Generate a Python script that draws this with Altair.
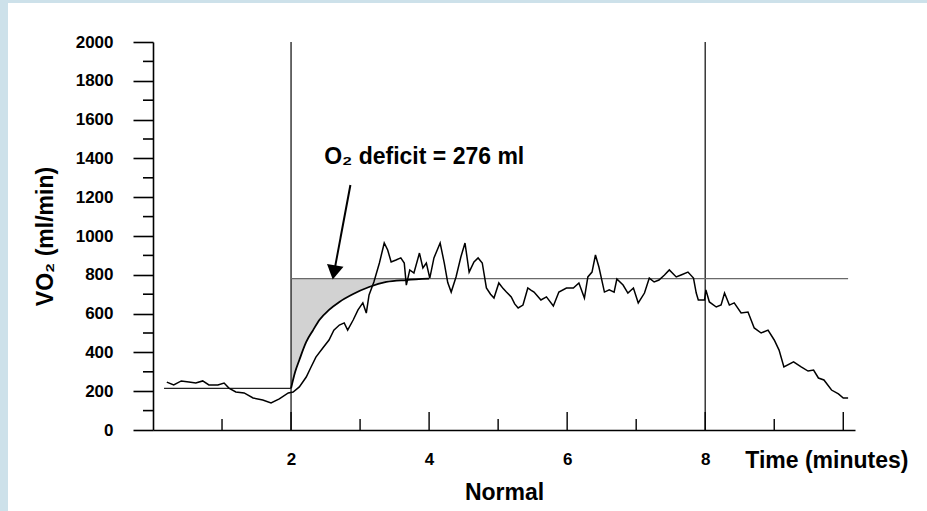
import altair as alt
import pandas as pd

# ---------------- data ----------------
time_min = [0.20, 0.30, 0.41, 0.52, 0.62, 0.72, 0.81, 0.94, 1.03, 1.10, 1.20, 1.32, 1.45, 1.59,
            1.71, 1.83, 1.96, 2.03, 2.12, 2.22, 2.29, 2.36, 2.46, 2.55, 2.62, 2.70, 2.77, 2.82,
            2.90, 2.97, 3.04, 3.09, 3.13, 3.20, 3.28, 3.35, 3.40, 3.45, 3.52, 3.59, 3.64, 3.67,
            3.72, 3.78, 3.86, 3.91, 3.96, 4.01, 4.07, 4.16, 4.22, 4.27, 4.32, 4.39, 4.46, 4.52,
            4.58, 4.65, 4.71, 4.77, 4.83, 4.89, 4.94, 5.01, 5.07, 5.12, 5.19, 5.24, 5.29, 5.36,
            5.43, 5.48, 5.52, 5.62, 5.70, 5.80, 5.88, 5.99, 6.09, 6.17, 6.25, 6.30, 6.36, 6.41,
            6.46, 6.54, 6.61, 6.68, 6.72, 6.81, 6.88, 6.96, 7.03, 7.12, 7.19, 7.26, 7.33, 7.41,
            7.48, 7.58, 7.65, 7.75, 7.83, 7.87, 7.90, 7.99, 8.01, 8.06, 8.16, 8.23, 8.28, 8.35,
            8.42, 8.52, 8.62, 8.71, 8.81, 8.91, 9.00, 9.07, 9.14, 9.28, 9.39, 9.49, 9.57, 9.64,
            9.72, 9.83, 9.93, 10.00, 10.07]
vo2 = [247, 232, 253, 247, 242, 253, 232, 232, 242, 216, 196, 191, 165, 155,
       139, 160, 191, 196, 222, 273, 325, 376, 423, 464, 515, 541, 552, 515,
       567, 619, 655, 603, 696, 763, 861, 964, 928, 866, 876, 887, 861, 747,
       825, 809, 912, 835, 861, 783, 887, 964, 860, 760, 711, 789, 892, 964,
       814, 866, 887, 861, 732, 700, 680, 758, 730, 711, 686, 650, 629, 644,
       732, 720, 711, 670, 686, 639, 711, 732, 732, 758, 680, 789, 814, 902,
       840, 711, 722, 711, 778, 747, 706, 732, 655, 706, 783, 763, 773, 799,
       825, 789, 799, 814, 783, 706, 670, 670, 722, 660, 634, 644, 706, 644,
       655, 603, 608, 526, 500, 515, 464, 412, 325, 351, 325, 304, 309, 268,
       258, 206, 186, 165, 165]

fit_time = [2.00, 2.06, 2.12, 2.22, 2.32, 2.41, 2.55, 2.70, 2.90, 3.13, 3.38, 3.67, 4.00]
fit_vo2 = [215, 300, 361, 454, 515, 567, 619, 660, 701, 737, 763, 773, 780]

baseline_start, baseline_end, baseline_vo2 = 0.16, 2.0, 215
steady_start, steady_end, steady_vo2 = 2.0, 10.07, 780
phase_lines = [2, 8]
x_tick_times = [1, 2, 3, 4, 5, 6, 7, 8, 9, 10]
x_label_values = [2, 4, 6, 8]
y_major_values = list(range(0, 2001, 200))
y_minor_values = list(range(100, 2000, 200))

annotation = "O₂ deficit = 276 ml"
ann_x, ann_y = 2.48, 1407
arrow_from = (2.86, 1263)
arrow_to = (2.635, 835)
arrow_head = (2.622, 812)

FONT = "Liberation Sans"
X = alt.Scale(domain=[0, 10.17], nice=False, zero=False)
Y = alt.Scale(domain=[0, 2000], nice=False)
XT = "Normal"
YT = "VO₂ (ml/min)"

AXX = alt.Axis(values=x_label_values, ticks=False, grid=False, format="d",
               domainColor="black", domainWidth=1.6, labelFont=FONT, labelFontSize=17,
               labelFontWeight="bold", labelColor="black", labelPadding=21,
               titleFont=FONT, titleFontSize=23, titleFontWeight="bold", titleColor="black",
               titlePadding=14, zindex=1)
AXY = alt.Axis(values=y_major_values, grid=False, format="d",
               tickSize=20, tickColor="black", tickWidth=1.6, domainColor="black", domainWidth=1.6,
               labelFont=FONT, labelFontSize=17, labelFontWeight="bold", labelColor="black",
               labelPadding=20, titleFont=FONT, titleFontSize=23, titleFontWeight="bold",
               titleColor="black", titlePadding=18, zindex=1)


def xq(f):
    return alt.X(f, type="quantitative", scale=X, axis=AXX, title=XT)


def yq(f):
    return alt.Y(f, type="quantitative", scale=Y, axis=AXY, title=YT)


meas = pd.DataFrame({"t": time_min, "v": vo2})
fit = pd.DataFrame({"t": fit_time, "v": fit_vo2, "top": [steady_vo2] * len(fit_time)})
hlines = pd.DataFrame({"t": [baseline_start, steady_start], "t2": [baseline_end, steady_end],
                       "v": [baseline_vo2, steady_vo2], "kind": ["base", "steady"]})
vlines = pd.DataFrame({"t": phase_lines, "v": [0] * len(phase_lines), "hi": [2000] * len(phase_lines)})
ticks = pd.DataFrame({"t": x_tick_times, "v": [0] * len(x_tick_times)})
minor = pd.DataFrame({"v": y_minor_values, "t": [0] * len(y_minor_values)})
one = pd.DataFrame({"a": [0]})

line = alt.Chart(meas).mark_line(color="black", strokeWidth=1.5).encode(x=xq("t"), y=yq("v"))

shade = alt.Chart(fit).mark_area(color="#d2d2d2", opacity=1).encode(x=xq("t"), y=yq("v"), y2="top:Q")

vr = alt.Chart(vlines).mark_rule(color="#2a2a2a", strokeWidth=1.4).encode(x=xq("t"), y=yq("v"), y2="hi:Q")

hr = alt.Chart(hlines).mark_rule(strokeWidth=1.2).encode(
    x=xq("t"), x2="t2:Q", y=yq("v"),
    color=alt.Color("kind:N", scale=alt.Scale(domain=["base", "steady"], range=["#222222", "#6a6a6a"]), legend=None))

# inward ticks on the time axis (majors longer than minors)
xt = alt.Chart(ticks).transform_calculate(len="datum.t % 2 === 0 ? 93 : 57").mark_rule(
    color="black", strokeWidth=1.4).encode(x=xq("t"), y=yq("v"), y2="len:Q")

# short minor ticks on the VO2 axis
yt = alt.Chart(minor).transform_calculate(left="-0.145").mark_rule(
    color="black", strokeWidth=1.6).encode(x=xq("t"), x2="left:Q", y=yq("v"))

fitline = alt.Chart(fit).mark_line(color="black", strokeWidth=1.8, interpolate="monotone").encode(
    x=xq("t"), y=yq("v"))

arrow_df = pd.DataFrame({"t": [arrow_from[0]], "v": [arrow_from[1]], "t2": [arrow_to[0]], "v2": [arrow_to[1]]})
arrow = alt.Chart(arrow_df).mark_rule(color="black", strokeWidth=2).encode(
    x=xq("t"), y=yq("v"), x2="t2:Q", y2="v2:Q")
head = alt.Chart(pd.DataFrame({"t": [arrow_head[0]], "v": [arrow_head[1]]})).mark_point(
    shape="triangle-down", filled=True, color="black", size=280, angle=10, opacity=1).encode(
    x=xq("t"), y=yq("v"))

ann = alt.Chart(pd.DataFrame({"t": [ann_x], "v": [ann_y], "s": [annotation]})).mark_text(
    align="left", baseline="middle", font=FONT, fontSize=23, fontWeight="bold", color="black").encode(
    x=xq("t"), y=yq("v"), text="s:N")

tlabel = alt.Chart(pd.DataFrame({"t": [8.58], "v": [0], "s": ["Time (minutes)"]})).mark_text(
    align="left", baseline="middle", dy=31, font=FONT, fontSize=23, fontWeight="bold", color="black").encode(
    x=xq("t"), y=yq("v"), text="s:N")

# light-blue page frame (left and top edges)
frame_left = alt.Chart(one).mark_rect(color="#cde1ea").encode(
    x=alt.value(-153), x2=alt.value(8 - 153), y=alt.value(-42), y2=alt.value(511 - 42))
frame_top = alt.Chart(one).mark_rect(color="#cde1ea").encode(
    x=alt.value(-153), x2=alt.value(927 - 153), y=alt.value(-42), y2=alt.value(3 - 42))

chart = alt.layer(shade, vr, hr, xt, yt, line, fitline, arrow, head, ann, tlabel,
                  frame_left, frame_top).properties(
    width=702, height=388, background="white",
    padding={"left": 153, "top": 42, "right": 72, "bottom": 81},
    autosize=alt.AutoSizeParams(type="none"),
).configure_view(stroke=None)

chart.save("out.html", embed_options={"renderer": "svg", "actions": False})
